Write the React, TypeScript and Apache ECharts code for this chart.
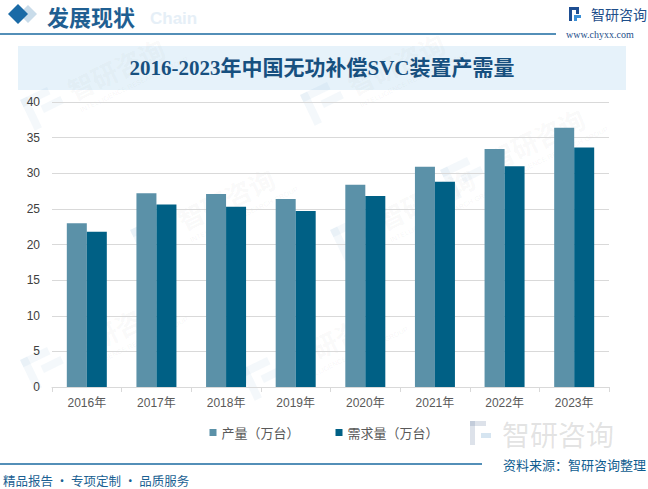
import React, { useEffect, useRef } from "react";
import * as echarts from "echarts";

const categories = ["2016年", "2017年", "2018年", "2019年", "2020年", "2021年", "2022年", "2023年"];
const production = [23.0, 27.2, 27.1, 26.4, 28.4, 30.9, 33.4, 36.4];
const demand = [21.8, 25.6, 25.3, 24.7, 26.8, 28.8, 31.0, 33.6];
const seriesNames = ["产量（万台）", "需求量（万台）"];
const titleText = "2016-2023年中国无功补偿SVC装置产需量";

const CJK = "'Noto Sans CJK SC', 'Noto Sans', sans-serif";
const NUM = "'Liberation Sans', Arial, 'Noto Sans CJK SC', sans-serif";

function watermark(x: number, y: number): any {
  return {
    type: "group",
    x,
    y,
    rotation: Math.PI / 7,
    silent: true,
    children: [
      { type: "rect", shape: { x: 0, y: 0, width: 30, height: 8 }, style: { fill: "rgba(40,110,170,0.05)" } },
      { type: "rect", shape: { x: 0, y: 0, width: 8, height: 34 }, style: { fill: "rgba(40,110,170,0.05)" } },
      { type: "rect", shape: { x: 16, y: 14, width: 22, height: 8 }, style: { fill: "rgba(40,110,170,0.05)" } },
      {
        type: "text",
        x: 48,
        y: 0,
        style: { text: "智研咨询", font: "bold 26px " + CJK, fill: "rgba(120,120,120,0.05)" },
      },
      {
        type: "text",
        x: 50,
        y: 32,
        style: { text: "INTELLIGENCE RESEARCH GROUP", font: "7px " + NUM, fill: "rgba(120,120,120,0.07)" },
      },
    ],
  };
}

export default function App() {
  const ref = useRef<HTMLDivElement>(null);
  useEffect(() => {
    document.body.style.margin = "0";
    const chart = echarts.init(ref.current!, undefined, { renderer: "svg" });
    const option: any = {
      animation: false,
      backgroundColor: "#ffffff",
      grid: { left: 52, right: 39, top: 102, bottom: 102, containLabel: false },
      legend: {
        data: seriesNames,
        bottom: 45,
        left: "center",
        itemWidth: 7,
        itemHeight: 7,
        itemGap: 36,
        icon: "rect",
        textStyle: { color: "#595959", fontSize: 13, fontFamily: CJK },
      },
      xAxis: {
        type: "category",
        data: categories,
        axisLine: { lineStyle: { color: "#d9d9d9" } },
        axisTick: { show: true, length: 5, lineStyle: { color: "#d9d9d9" } },
        axisLabel: { color: "#595959", fontSize: 12, margin: 10, fontFamily: NUM },
      },
      yAxis: {
        type: "value",
        min: 0,
        max: 40,
        interval: 5,
        axisLine: { show: false },
        axisTick: { show: false },
        splitLine: { lineStyle: { color: "#d9d9d9" } },
        axisLabel: { color: "#404040", fontSize: 12, margin: 12, fontFamily: NUM },
      },
      series: [
        {
          name: seriesNames[0],
          type: "bar",
          data: production,
          barWidth: 20,
          barGap: "0%",
          itemStyle: { color: "#5b91a8" },
        },
        {
          name: seriesNames[1],
          type: "bar",
          data: demand,
          barWidth: 20,
          barGap: "0%",
          itemStyle: { color: "#006085" },
        },
      ],
      graphic: [
        watermark(20, 100),
        watermark(300, 95),
        watermark(130, 230),
        watermark(330, 230),
        watermark(440, 170),
        watermark(20, 360),
        watermark(240, 370),
        // header
        {
          type: "polygon",
          shape: { points: [[28, 5], [37, 14], [28, 23], [19, 14]] },
          style: { fill: "#c9dcea" },
        },
        {
          type: "polygon",
          shape: { points: [[18, 4], [28, 14], [18, 24], [8, 14]] },
          style: { fill: "#1a6aa6" },
        },
        {
          type: "text",
          x: 150,
          y: 18,
          style: { text: "Chain", font: "bold 17px " + NUM, fill: "#e6eff7", verticalAlign: "middle" },
        },
        {
          type: "text",
          x: 47,
          y: 16,
          style: { text: "发展现状", font: "bold 22px " + CJK, fill: "#1f5f92", verticalAlign: "middle" },
        },
        {
          type: "line",
          shape: { x1: 0, y1: 34, x2: 556, y2: 34 },
          style: { stroke: "#1a6aa0", lineWidth: 1.5 },
        },
        // logo top right
        { type: "rect", shape: { x: 569, y: 7, width: 10, height: 3 }, style: { fill: "#1e4e92" } },
        { type: "rect", shape: { x: 569, y: 7, width: 3, height: 14 }, style: { fill: "#1e4e92" } },
        { type: "rect", shape: { x: 576, y: 7, width: 3, height: 7 }, style: { fill: "#1e4e92" } },
        { type: "rect", shape: { x: 574, y: 15, width: 7, height: 3 }, style: { fill: "#3b8fd6" } },
        { type: "rect", shape: { x: 574, y: 18, width: 3, height: 3 }, style: { fill: "#3b8fd6" } },
        {
          type: "text",
          x: 591,
          y: 14,
          style: { text: "智研咨询", font: "14px " + CJK, fill: "#1e4e8a", verticalAlign: "middle" },
        },
        {
          type: "text",
          x: 566,
          y: 34,
          style: { text: "www.chyxx.com", font: "10px 'Liberation Serif', 'DejaVu Serif', serif", fill: "#1e4e8a", verticalAlign: "middle" },
        },
        // title band
        {
          type: "rect",
          shape: { x: 18, y: 46, width: 608, height: 44 },
          style: { fill: "#e6f2fa" },
          z: -1,
        },
        {
          type: "text",
          x: 322,
          y: 68,
          style: {
            text: titleText,
            font: "bold 21px 'Liberation Serif', 'Noto Sans CJK SC', serif",
            fill: "#17507f",
            align: "center",
            verticalAlign: "middle",
          },
        },
        // bottom-right watermark logo
        { type: "rect", shape: { x: 470, y: 421, width: 16, height: 5 }, style: { fill: "rgba(120,140,170,0.25)" } },
        { type: "rect", shape: { x: 470, y: 421, width: 5, height: 24 }, style: { fill: "rgba(120,140,170,0.25)" } },
        { type: "rect", shape: { x: 481, y: 433, width: 10, height: 5 }, style: { fill: "rgba(120,170,210,0.3)" } },
        {
          type: "text",
          x: 502,
          y: 434,
          style: { text: "智研咨询", font: "28px " + CJK, fill: "rgba(130,130,130,0.22)", verticalAlign: "middle" },
        },
        // footer
        {
          type: "line",
          shape: { x1: 0, y1: 464, x2: 482, y2: 464 },
          style: { stroke: "#1a6aa0", lineWidth: 1.5 },
        },
        {
          type: "text",
          x: 3,
          y: 480,
          style: { text: "精品报告 · 专项定制 · 品质服务", font: "12.5px " + CJK, fill: "#1a5f92", verticalAlign: "middle" },
        },
        {
          type: "text",
          x: 646,
          y: 464,
          style: { text: "资料来源：智研咨询整理", font: "13px " + CJK, fill: "#0f5d90", align: "right", verticalAlign: "middle" },
        },
      ],
    };
    chart.setOption(option);
    return () => chart.dispose();
  }, []);
  return <div ref={ref} style={{ width: 648, height: 489 }} />;
}
